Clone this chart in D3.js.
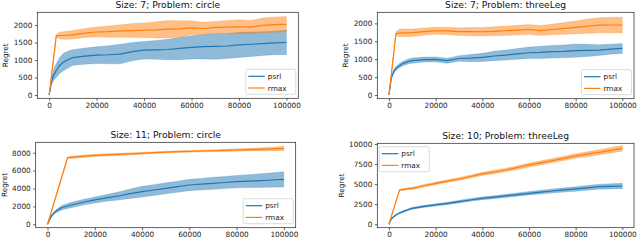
<!DOCTYPE html>
<html>
<head>
<meta charset="utf-8">
<script src="https://cdn.jsdelivr.net/npm/d3@7"></script>
<style>
  body { margin: 0; background: white; }
  svg { display: block; font-family: "DejaVu Sans", sans-serif; }
</style>
</head>
<body>
<div id="chart"></div>
<script>
"use strict"

// time steps shared by every run
const steps = [0, 1000, 2000, 3000, 4500, 6000, 8500, 10000,
  15000, 20000, 25000, 30000, 35000, 40000, 45000, 50000, 55000,
  60000, 65000, 70000, 75000, 80000, 85000, 90000, 95000, 100000]

// Size 7, circle
const c7Psrl    = [0, 400, 580, 700, 850, 940, 1030, 1070, 1110, 1140, 1150, 1170, 1240, 1280, 1290, 1300, 1330, 1360, 1380, 1390, 1400, 1430, 1450, 1470, 1490, 1500]
const c7PsrlSd  = [0, 100, 160, 200, 230, 250, 240, 220, 230, 240, 260, 280, 260, 250, 270, 290, 320, 330, 350, 370, 360, 360, 350, 340, 340, 350]
const c7Rmax    = [0, 560, 1120, 1690, 1700, 1700, 1710, 1720, 1770, 1800, 1810, 1830, 1840, 1850, 1860, 1880, 1890, 1920, 1900, 1930, 1940, 1950, 1940, 1990, 2010, 2020]
const c7RmaxSd  = [0, 10, 20, 40, 100, 110, 120, 120, 130, 140, 160, 180, 200, 210, 230, 250, 230, 200, 180, 170, 190, 200, 190, 210, 220, 220]

// Size 7, threeLeg
const t7Psrl    = [0, 480, 650, 740, 820, 880, 940, 960, 990, 995, 960, 1020, 1030, 1050, 1090, 1115, 1150, 1180, 1190, 1210, 1220, 1240, 1245, 1255, 1280, 1300]
const t7PsrlSd  = [0, 40, 50, 55, 60, 65, 70, 75, 70, 70, 70, 80, 100, 115, 130, 140, 150, 160, 170, 175, 180, 185, 170, 150, 140, 140]
const t7Rmax    = [0, 570, 1140, 1720, 1730, 1735, 1735, 1740, 1770, 1795, 1790, 1770, 1770, 1767, 1780, 1795, 1810, 1830, 1800, 1830, 1860, 1890, 1920, 1950, 1955, 1955]
const t7RmaxSd  = [0, 10, 20, 50, 110, 110, 110, 105, 100, 100, 105, 110, 115, 120, 125, 130, 135, 140, 140, 150, 165, 180, 200, 210, 215, 220]

// Size 11, circle
const c11Psrl   = [0, 600, 1050, 1330, 1620, 1850, 2050, 2160, 2460, 2720, 2950, 3160, 3420, 3650, 3830, 4020, 4200, 4390, 4480, 4580, 4670, 4760, 4820, 4880, 4950, 5020]
const c11PsrlSd = [0, 60, 110, 150, 200, 240, 280, 300, 310, 330, 380, 450, 530, 590, 600, 610, 620, 630, 650, 670, 680, 690, 720, 760, 800, 840]
const c11Rmax   = [0, 880, 1750, 2630, 3940, 5260, 7450, 7480, 7600, 7700, 7760, 7810, 7870, 7930, 8000, 8070, 8110, 8150, 8190, 8220, 8260, 8300, 8340, 8370, 8420, 8480]
const c11RmaxSd = [0, 10, 20, 30, 40, 50, 80, 120, 130, 130, 130, 130, 120, 110, 100, 100, 100, 90, 100, 110, 120, 130, 150, 170, 200, 250]

// Size 10, threeLeg
const t10Psrl   = [0, 650, 950, 1170, 1400, 1580, 1850, 1990, 2230, 2410, 2600, 2820, 3030, 3240, 3380, 3530, 3700, 3860, 4000, 4150, 4280, 4400, 4540, 4690, 4730, 4770]
const t10PsrlSd = [0, 50, 70, 80, 90, 100, 110, 120, 130, 140, 150, 160, 170, 180, 190, 200, 210, 220, 230, 250, 270, 280, 300, 310, 320, 330]
const t10Rmax   = [0, 950, 1900, 2850, 4270, 4330, 4440, 4480, 4800, 5100, 5380, 5640, 5950, 6270, 6510, 6760, 7070, 7390, 7650, 7920, 8220, 8510, 8730, 8960, 9210, 9460]
const t10RmaxSd = [0, 10, 20, 30, 60, 120, 130, 140, 150, 160, 170, 180, 190, 200, 210, 220, 230, 240, 250, 260, 270, 280, 300, 320, 340, 350]

const xTicks = [0, 20000, 40000, 60000, 80000, 100000]
const seriesNames = ["psrl", "rmax"]
const colors = {psrl: "#1f77b4", rmax: "#ff7f0e"}

const panels = [
  {title: "Size: 7; Problem: circle", psrl: [c7Psrl, c7PsrlSd], rmax: [c7Rmax, c7RmaxSd],
   box: [37.3, 12.3, 298.3, 98.3], yDomain: [-94, 2363], yTicks: [0, 500, 1000, 1500, 2000], legend: "lr"},
  {title: "Size: 7; Problem: threeLeg", psrl: [t7Psrl, t7PsrlSd], rmax: [t7Rmax, t7RmaxSd],
   box: [377.3, 12.3, 634, 98.7], yDomain: [-103, 2310], yTicks: [0, 500, 1000, 1500, 2000], legend: "lr"},
  {title: "Size: 11; Problem: circle", psrl: [c11Psrl, c11PsrlSd], rmax: [c11Rmax, c11RmaxSd],
   box: [35.7, 142.3, 295.7, 227.7], yDomain: [-380, 9162], yTicks: [0, 2000, 4000, 6000, 8000], legend: "lr"},
  {title: "Size: 10; Problem: threeLeg", psrl: [t10Psrl, t10PsrlSd], rmax: [t10Rmax, t10RmaxSd],
   box: [377.3, 143.3, 634, 227.7], yDomain: [-423, 10087], yTicks: [0, 2500, 5000, 7500, 10000], legend: "ul"},
]

const svg = d3.select("#chart").append("svg")
  .attr("width", 640)
  .attr("height", 240)

function drawPanel(p) {
  const [left, top, right, bottom] = p.box
  const x = d3.scaleLinear().domain([-5000, 105000]).range([left, right])
  const y = d3.scaleLinear().domain(p.yDomain).range([bottom, top])
  const g = svg.append("g")

  for (const name of seriesNames) {
    const [mean, sd] = p[name]
    const rows = steps.map((s, i) => ({s, m: mean[i], d: sd[i]}))
    const area = d3.area().x(d => x(d.s)).y0(d => y(d.m - d.d)).y1(d => y(d.m + d.d))
    g.append("path")
      .attr("d", area(rows))
      .attr("fill", colors[name])
      .attr("fill-opacity", 0.5)
      .attr("stroke", colors[name])
      .attr("stroke-opacity", 0.4)
      .attr("stroke-width", 0.5)
    g.append("path")
      .attr("d", d3.line().x(d => x(d.s)).y(d => y(d.m))(rows))
      .attr("fill", "none")
      .attr("stroke", colors[name])
      .attr("stroke-width", 1.2)
  }

  const ax = g.append("g")
    .attr("transform", `translate(0 ${bottom})`)
    .call(d3.axisBottom(x).tickValues(xTicks).tickFormat(d3.format("d")).tickSize(2.5).tickPadding(2))
  const ay = g.append("g")
    .attr("transform", `translate(${left} 0)`)
    .call(d3.axisLeft(y).tickValues(p.yTicks).tickFormat(d3.format("d")).tickSize(2.5).tickPadding(2.5))
  for (const a of [ax, ay]) {
    a.select(".domain").remove()
    a.selectAll("line").attr("stroke", "#222").attr("stroke-width", 0.7)
    a.selectAll("text").attr("fill", "#222").style("font-size", "7.3px").style("font-family", "DejaVu Sans")
  }

  g.append("rect")
    .attr("x", left).attr("y", top)
    .attr("width", right - left).attr("height", bottom - top)
    .attr("fill", "none").attr("stroke", "#222").attr("stroke-width", 0.7)

  g.append("text")
    .text(p.title)
    .attr("x", (left + right) / 2)
    .attr("y", top - 4.5)
    .attr("text-anchor", "middle")
    .attr("fill", "#111")
    .style("font-size", "9.2px")

  // bbox is in the axis group's own coordinates, so shift by left
  const bb = ay.node().getBBox()
  g.append("text")
    .text("Regret")
    .attr("transform", `translate(${left + bb.x - 5.5} ${(top + bottom) / 2}) rotate(-90)`)
    .attr("text-anchor", "middle")
    .attr("fill", "#111")
    .style("font-size", "7.3px")

  // legend
  const lw = 50, lh = 25
  const lx = p.legend == "ul" ? left + 2 : right - 2.5 - lw
  const ly = p.legend == "ul" ? top + 3.4 : bottom - 4 - lh
  const lg = g.append("g").attr("transform", `translate(${lx} ${ly})`)
  lg.append("rect")
    .attr("width", lw).attr("height", lh).attr("rx", 1.5)
    .attr("fill", "white").attr("fill-opacity", 0.8)
    .attr("stroke", "#ccc").attr("stroke-width", 0.7)
  seriesNames.forEach((name, i) => {
    const yy = 7 + i * 11.7
    lg.append("line")
      .attr("x1", 2.5).attr("x2", 19).attr("y1", yy).attr("y2", yy)
      .attr("stroke", colors[name]).attr("stroke-width", 1.2)
    lg.append("text")
      .text(name)
      .attr("x", 22).attr("y", yy).attr("dy", "0.35em")
      .attr("fill", "#222")
      .style("font-size", "7.3px")
  })
}

panels.forEach(drawPanel)
</script>
</body>
</html>
